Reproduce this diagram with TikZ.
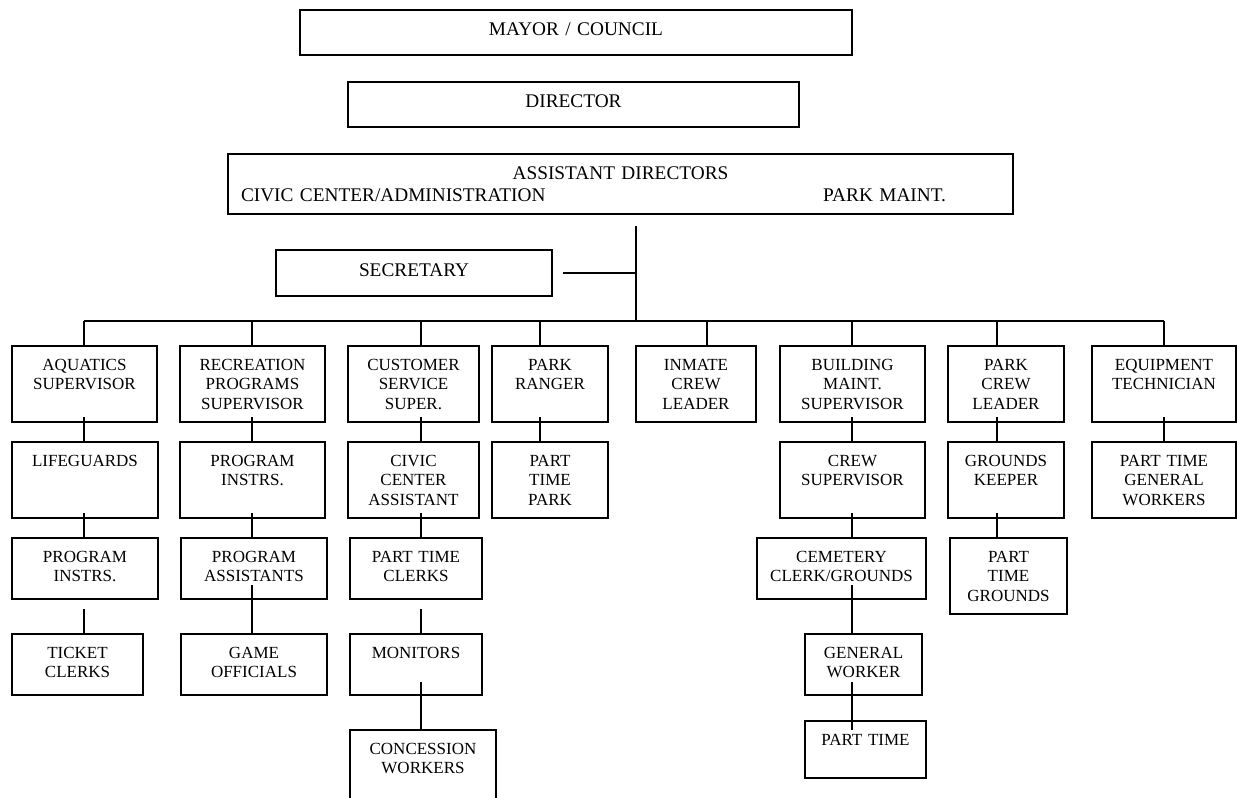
\documentclass[tikz,border=0pt]{standalone}
\usepackage{fontspec}
\setmainfont{Liberation Serif}
\usetikzlibrary{positioning,calc}

\begin{document}
\begin{tikzpicture}[x=1pt, y=-1pt,
		post/.style={draw, line width=2pt, rectangle, anchor=north west, inner sep=0pt, outer sep=0pt,
			align=center, font=\fontsize{17}{19.5}\selectfont, text height=24pt},
		head/.style={post, font=\fontsize{19.3}{22.7}\selectfont, text height=26pt},
		tall/.style={text depth=52pt},
		low/.style={text depth=37pt},
		link/.style={draw, line width=2pt},
		down/.style={link, shorten <=-5pt}]
	
	\path[use as bounding box, fill=white] (0,0) rectangle (1238,797);
	
	% Top of the chart
	\node[head, text width=552pt, text depth=19pt] (mayor) at (300,10) {MAYOR / COUNCIL};
	\node[head, text width=451pt, text depth=19pt] (director) at (348,82) {DIRECTOR};
	\node[head, text width=785pt, text height=25pt, text depth=35pt] (asst) at (228,154)
		{ASSISTANT DIRECTORS\\\hspace*{13pt}CIVIC CENTER/ADMINISTRATION\hfill PARK MAINT.\hspace{67pt}\mbox{}};
	\node[head, text width=276pt, text height=26pt, text depth=20pt] (secretary) at (276,250) {SECRETARY};
	
	% Division heads
	\node[post, tall, text width=145pt] (aq) at (12,346) {AQUATICS\\SUPERVISOR};
	\node[post, tall, text width=145pt] (rec) at (180,346) {RECREATION\\PROGRAMS\\SUPERVISOR};
	\node[post, tall, text width=131pt] (cust) at (348,346) {CUSTOMER\\SERVICE\\SUPER.};
	\node[post, tall, text width=116pt] (ranger) at (492,346) {PARK\\RANGER};
	\node[post, tall, text width=120pt] (inmate) at (636,346) {INMATE\\CREW\\LEADER};
	\node[post, tall, text width=145pt] (bldg) at (780,346) {BUILDING\\MAINT.\\SUPERVISOR};
	\node[post, tall, text width=116pt] (crewlead) at (948,346) {PARK\\CREW\\LEADER};
	\node[post, tall, text width=144pt] (equip) at (1092,346) {EQUIPMENT\\TECHNICIAN};
	
	% Second level
	\node[post, tall, text width=146pt] (life) at (12,442) {LIFEGUARDS};
	\node[post, tall, text width=145pt] (pi2) at (180,442) {PROGRAM\\INSTRS.};
	\node[post, tall, text width=131pt] (civic) at (348,442) {CIVIC\\CENTER\\ASSISTANT};
	\node[post, tall, text width=116pt] (ptpark) at (492,442) {PART\\TIME\\PARK};
	\node[post, tall, text width=145pt] (crewsup) at (780,442) {CREW\\SUPERVISOR};
	\node[post, tall, text width=116pt] (gk) at (948,442) {GROUNDS\\KEEPER};
	\node[post, tall, text width=144pt] (ptgw) at (1092,442) {PART TIME\\GENERAL\\WORKERS};
	
	% Third level
	\node[post, low, text width=146pt] (pi1) at (12,538) {PROGRAM\\INSTRS.};
	\node[post, low, text width=146pt] (pa) at (181,538) {PROGRAM\\ASSISTANTS};
	\node[post, low, text width=132pt] (ptc) at (350,538) {PART TIME\\CLERKS};
	\node[post, low, text width=169pt] (cem) at (757,538) {CEMETERY\\CLERK/GROUNDS};
	\node[post, tall, text width=117pt] (ptg) at (950,538) {PART\\TIME\\GROUNDS};
	
	% Fourth level and below
	\node[post, low, text width=131pt] (ticket) at (12,634) {TICKET\\CLERKS};
	\node[post, low, text width=146pt] (game) at (181,634) {GAME\\OFFICIALS};
	\node[post, low, text width=132pt] (mon) at (350,634) {MONITORS};
	\node[post, low, text width=117pt] (gen) at (805,634) {GENERAL\\WORKER};
	\node[post, text width=121pt, text depth=33pt] (pt) at (805,721) {PART TIME};
	\node[post, text width=146pt, text depth=46pt] (conc) at (350,730) {CONCESSION\\WORKERS};
	
	% Column lines
	\coordinate (c1) at (84,0);
	\coordinate (c2) at (252,0);
	\coordinate (c3) at (421,0);
	\coordinate (c4) at (540,0);
	\coordinate (c5) at (707,0);
	\coordinate (c6) at (852,0);
	\coordinate (c7) at (997,0);
	\coordinate (c8) at (1164,0);
	\coordinate (trunk) at (636,226);
	\coordinate (bus) at (636,321);
	
	% Trunk, secretary and bus
	\draw[link] (trunk) -- (bus);
	\draw[link] ([xshift=11pt]secretary.east) -- (secretary.east -| trunk);
	\draw[link] (c1 |- bus) -- (c8 |- bus);
	\foreach \c/\n in {c1/aq, c2/rec, c3/cust, c4/ranger, c5/inmate, c6/bldg, c7/crewlead, c8/equip}
	\draw[link] (\c |- bus) -- (\n.north -| \c);
	
	% Down the columns
	\foreach \c/\a/\b in {c1/aq/life, c1/life/pi1, c2/rec/pi2, c2/pi2/pa, c3/cust/civic, c3/civic/ptc,
		c4/ranger/ptpark, c6/bldg/crewsup, c6/crewsup/cem, c7/crewlead/gk, c7/gk/ptg, c8/equip/ptgw}
	\draw[down] (\a.south -| \c) -- (\b.north -| \c);
	\draw[link, shorten <=10pt] (pi1.south -| c1) -- (ticket.north -| c1);
	\draw[link, shorten <=10pt] (ptc.south -| c3) -- (mon.north -| c3);
	\draw[link, shorten <=-14pt] (pa.south -| c2) -- (game.north -| c2);
	\draw[link, shorten <=-14pt] (cem.south -| c6) -- (gen.north -| c6);
	\draw[link, shorten <=-13pt] (mon.south -| c3) -- (conc.north -| c3);
	\draw[link, shorten <=-13pt, shorten >=-9pt] (gen.south -| c6) -- (pt.north -| c6);
\end{tikzpicture}
\end{document}
